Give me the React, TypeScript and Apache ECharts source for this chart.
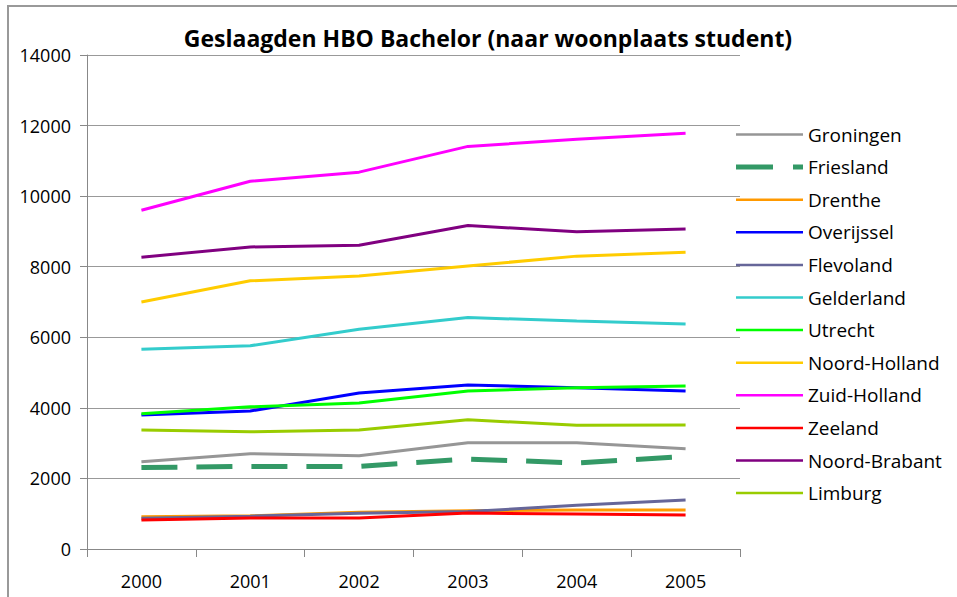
import React, { useEffect, useRef } from "react";
import * as echarts from "echarts";

const years = ["2000", "2001", "2002", "2003", "2004", "2005"];

const groningen = [2470, 2700, 2640, 3010, 3010, 2840];
const friesland = [2310, 2340, 2340, 2550, 2440, 2620];
const drenthe = [915, 940, 1040, 1085, 1105, 1105];
const overijssel = [3800, 3910, 4420, 4650, 4570, 4480];
const flevoland = [870, 930, 1010, 1060, 1240, 1390];
const gelderland = [5660, 5760, 6230, 6560, 6460, 6380];
const utrecht = [3830, 4030, 4140, 4480, 4570, 4620];
const noordHolland = [7000, 7600, 7740, 8020, 8300, 8410];
const zuidHolland = [9600, 10420, 10680, 11410, 11610, 11780];
const zeeland = [822, 880, 880, 1020, 990, 965];
const noordBrabant = [8270, 8560, 8610, 9170, 8990, 9070];
const limburg = [3370, 3320, 3370, 3660, 3510, 3515];

const yTicks = { min: 0, max: 14000, interval: 2000 };

const seriesDefs = [
  { name: "Groningen", data: groningen, color: "#969696" },
  { name: "Friesland", data: friesland, color: "#339966", dashed: true },
  { name: "Drenthe", data: drenthe, color: "#FF9900" },
  { name: "Overijssel", data: overijssel, color: "#0000FF" },
  { name: "Flevoland", data: flevoland, color: "#666699" },
  { name: "Gelderland", data: gelderland, color: "#33CCCC" },
  { name: "Utrecht", data: utrecht, color: "#00FF00" },
  { name: "Noord-Holland", data: noordHolland, color: "#FFCC00" },
  { name: "Zuid-Holland", data: zuidHolland, color: "#FF00FF" },
  { name: "Zeeland", data: zeeland, color: "#FF0000" },
  { name: "Noord-Brabant", data: noordBrabant, color: "#800080" },
  { name: "Limburg", data: limburg, color: "#99CC00" },
];

const FONT = "'Open Sans', 'Noto Sans', sans-serif";

// legend icons: tiny corner marks keep the bounding box 67x5 so the bar stays thin
const SOLID_ICON =
  "path://M0,0L0.05,0L0,0.05Z M0,1.25H67V3.75H0Z M66.95,5L67,5L67,4.95Z";
const DASH_ICON = "path://M0,0H37V5H0Z M57,0H67V5H57Z";

export default function App() {
  const ref = useRef<HTMLDivElement>(null);
  useEffect(() => {
    if (!ref.current) return;
    const chart = echarts.init(ref.current, undefined, { renderer: "svg" });
    chart.setOption({
      animation: false,
      backgroundColor: "#ffffff",
      title: {
        text: "Geslaagden HBO Bachelor (naar woonplaats student)",
        left: 483,
        textAlign: "center",
        top: 21,
        textStyle: { fontFamily: FONT, fontSize: 23, fontWeight: "bold", color: "#000" },
      },
      graphic: [
        {
          type: "rect",
          shape: { x: 8, y: 6, width: 1000, height: 700 },
          style: { fill: "none", stroke: "#999999", lineWidth: 2 },
          silent: true,
        },
      ],
      grid: { left: 87, right: 217, top: 55, bottom: 48, containLabel: false },
      legend: {
        orient: "vertical",
        left: 731,
        top: 120,
        itemWidth: 67,
        itemHeight: 5,
        itemGap: 13.6,
        textStyle: { fontFamily: FONT, fontSize: 19, color: "#000" },
        data: seriesDefs.map((s) => ({
          name: s.name,
          icon: s.dashed ? DASH_ICON : SOLID_ICON,
          itemStyle: { color: s.color, borderWidth: 0 },
        })),
      },
      xAxis: {
        type: "category",
        data: years,
        boundaryGap: true,
        axisLine: { lineStyle: { color: "#888888", width: 1 } },
        axisTick: { show: true, length: 8, inside: false, lineStyle: { color: "#888888" } },
        axisLabel: { fontFamily: FONT, fontSize: 18, color: "#000", margin: 23 },
        splitLine: { show: false },
      },
      yAxis: {
        type: "value",
        min: yTicks.min,
        max: yTicks.max,
        interval: yTicks.interval,
        axisLine: { show: true, lineStyle: { color: "#888888", width: 1 } },
        axisTick: { show: true, length: 7, lineStyle: { color: "#888888" } },
        axisLabel: {
          fontFamily: FONT,
          fontSize: 18,
          color: "#000",
          margin: 16,
          formatter: (v: number) => String(v),
        },
        splitLine: { show: true, lineStyle: { color: "#999999", width: 1 } },
      },
      series: seriesDefs.map((s) => ({
        name: s.name,
        type: "line",
        data: s.data,
        symbol: "none",
        showSymbol: false,
        color: s.color,
        lineStyle: s.dashed
          ? { color: s.color, width: 5, type: [36, 19], cap: "butt" }
          : { color: s.color, width: 3 },
        itemStyle: { color: s.color },
      })),
    });
    return () => chart.dispose();
  }, []);
  return (
    <div
      ref={ref}
      style={{ position: "fixed", left: 0, top: 0, width: 957, height: 597 }}
    />
  );
}
